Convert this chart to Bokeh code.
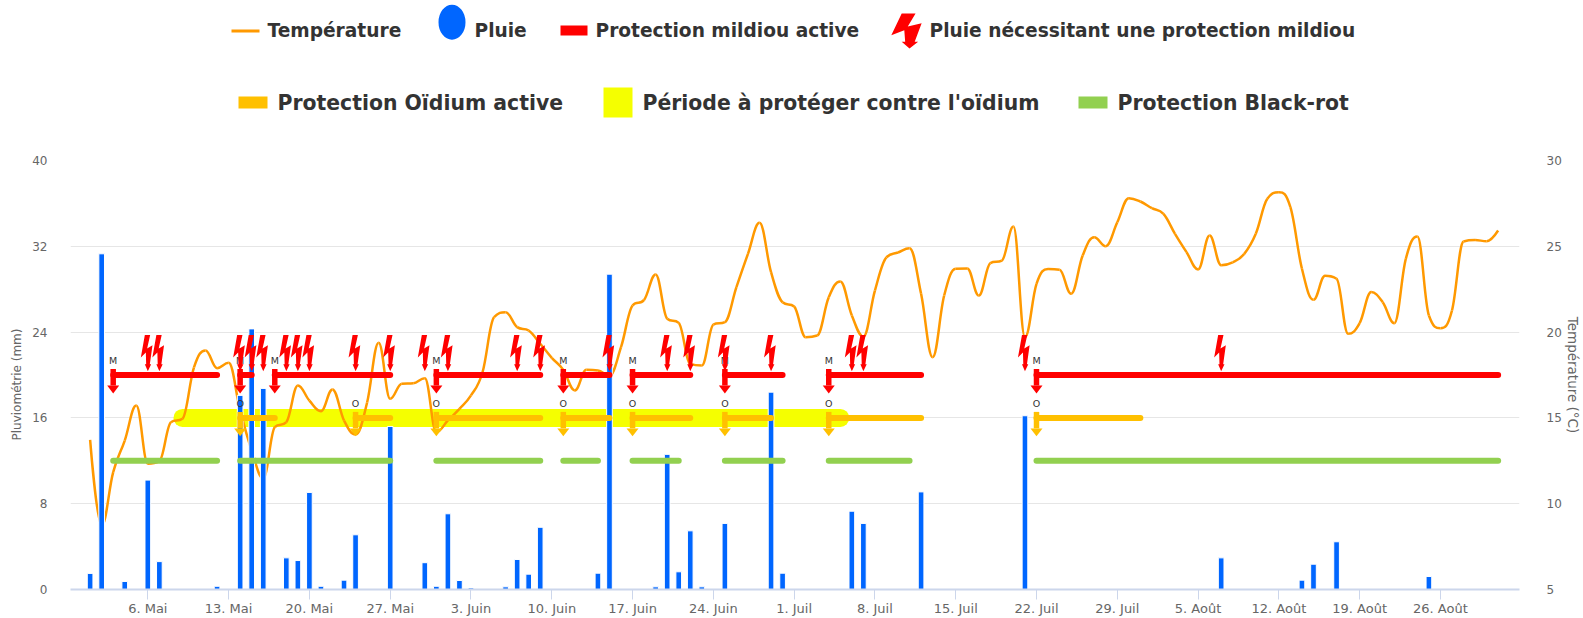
from bokeh.embed import file_html
from bokeh.resources import INLINE
from bokeh.plotting import figure
from bokeh.layouts import column
from bokeh.models import (ColumnDataSource, Range1d, LinearAxis, FixedTicker, Title, Bezier)
from bokeh.core.properties import value

FONT = "DejaVu Sans"

# ---- data: x is the number of days after 6 May ----
tick_days = [0, 7, 14, 21, 28, 35, 42, 49, 56, 63, 70, 77, 84, 91, 98, 105, 112]
tick_labels = ["6. Mai", "13. Mai", "20. Mai", "27. Mai", "3. Juin", "10. Juin", "17. Juin", "24. Juin",
               "1. Juil", "8. Juil", "15. Juil", "22. Juil", "29. Juil", "5. Août", "12. Août", "19. Août", "26. Août"]

rain_days = [-5, -4, -2, 0, 1, 6, 8, 9, 10, 12, 13, 14, 15, 17, 18, 21, 24, 25, 26, 27, 28, 31, 32, 33, 34,
             39, 40, 44, 45, 46, 47, 48, 50, 54, 55, 61, 62, 67, 76, 93, 100, 101, 103, 111]
rain_mm = [1.5, 31.3, 0.75, 10.2, 2.6, 0.3, 18.1, 24.3, 18.75, 2.95, 2.7, 9.05, 0.3, 0.87, 5.1, 15.2, 2.5, 0.3,
           7.06, 0.84, 0.15, 0.25, 2.8, 1.43, 5.8, 1.52, 29.4, 0.25, 12.6, 1.65, 5.47, 0.25, 6.16, 18.4, 1.52,
           7.3, 6.16, 9.1, 16.2, 2.95, 0.87, 2.36, 4.45, 1.21]

temp_first_day = -5
temperature = [13.72, 8.73, 11.84, 13.68, 15.72, 12.33, 12.48, 14.75, 14.95, 17.95, 18.93, 17.9, 18.21, 15.43, 13.1,
               11.47, 14.46, 14.75, 16.89, 16.01, 15.39, 16.66, 14.85, 14.03, 15.9, 19.38, 16.11, 16.99, 17.02, 17.31,
               14.17, 14.85, 15.53, 16.31, 17.66, 20.87, 21.16, 20.29, 20.09, 19.32, 18.5, 17.8, 16.6, 17.8, 17.76,
               17.47, 19.12, 21.55, 21.88, 23.36, 20.78, 20.54, 18.15, 18.05, 20.44, 20.58, 22.62, 24.56, 26.37, 23.49,
               21.74, 21.49, 19.7, 19.8, 22.03, 22.95, 20.97, 19.74, 22.42, 24.36, 24.64, 24.89, 22.23, 18.54, 22.13,
               23.69, 23.71, 22.13, 24.02, 24.17, 26.15, 19.7, 22.81, 23.67, 23.63, 22.23, 24.46, 25.53, 25.01, 26.4,
               27.8, 27.61, 27.22, 26.89, 25.73, 24.66, 23.65, 25.63, 23.9, 24.07, 24.56, 25.73, 27.77, 28.15, 27.28,
               23.69, 21.88, 23.28, 23.11, 19.9, 20.52, 22.33, 21.74, 20.52, 24.27, 25.57, 20.97, 20.23, 21.26, 25.28,
               25.36, 25.3, 25.92]
temp_days = [temp_first_day + i for i in range(len(temperature))]

mildiou_start = [-3, 8, 11, 25, 36, 42, 50, 59, 77]
mildiou_end = [6, 9, 21, 34, 40, 47, 55, 67, 117]
oidium_start = [8, 18, 25, 36, 42, 50, 59, 77]
oidium_end = [11, 21, 34, 40, 47, 54, 67, 86]
blackrot_start = [-3, 8, 25, 36, 42, 50, 59, 77]
blackrot_end = [6, 21, 34, 39, 46, 55, 66, 117]
oidium_period_start = [3]
oidium_period_end = [60]
alert_days = [0, 1, 8, 9, 10, 12, 13, 14, 18, 21, 24, 26, 32, 34, 40, 45, 47, 50, 54, 61, 62, 76, 93]

legend_row1 = ["Température", "Pluie", "Protection mildiou active", "Pluie nécessitant une protection mildiou"]
legend_row2 = ["Protection Oïdium active", "Période à protéger contre l'oïdium", "Protection Black-rot"]

# ---- styles ----
BLUE, ORANGE, RED, AMBER, YELLOW, GREEN = "#0066ff", "#ff9900", "#ff0000", "#ffc000", "#f5ff00", "#92d050"
GREY = "#666666"
PX_DAY, PX_MM = 11.54, 10.72
MILDIOU_Y, OIDIUM_Y, BLACKROT_Y = 20, 16, 12
BOLT_DX = [-3, 2.33, -0.67, 4.67, 2, 3.33, 0, -3, -1.67, -2, -7]
BOLT_DY = [-36, -36, -22.7, -26, -7, -7, 0, -7, -7, -18.7, -13.7]


def spline_controls(xs, ys, smoothing=1.5):
    """Control points of a monotone-limited spline through the read points."""
    n = len(xs)
    left, right = [None] * n, [None] * n
    for i in range(n):
        x, y = xs[i], ys[i]
        if i == 0 or i == n - 1:
            left[i] = right[i] = (x, y)
            continue
        lx, ly, nx, ny = xs[i - 1], ys[i - 1], xs[i + 1], ys[i + 1]
        d = smoothing + 1
        lcx, lcy = (smoothing * x + lx) / d, (smoothing * y + ly) / d
        rcx, rcy = (smoothing * x + nx) / d, (smoothing * y + ny) / d
        corr = (rcy - lcy) * (rcx - x) / (rcx - lcx) + y - rcy
        lcy += corr
        rcy += corr
        if lcy > ly and lcy > y:
            lcy = max(ly, y)
            rcy = 2 * y - lcy
        elif lcy < ly and lcy < y:
            lcy = min(ly, y)
            rcy = 2 * y - lcy
        if rcy > ny and rcy > y:
            rcy = max(ny, y)
            lcy = 2 * y - rcy
        elif rcy < ny and rcy < y:
            rcy = min(ny, y)
            lcy = 2 * y - rcy
        left[i], right[i] = (lcx, lcy), (rcx, rcy)
    return left, right


# ---- legend band ----
leg = figure(width=1583, height=138, x_range=Range1d(70, 1519), y_range=Range1d(138, 0),
             output_backend="svg", toolbar_location=None, outline_line_color=None,
             min_border_left=70, min_border_right=64, min_border_top=0, min_border_bottom=0)
leg.axis.visible = False
leg.grid.visible = False
leg.line([231, 259], [30.5, 30.5], line_color=ORANGE, line_width=3)
leg.ellipse([451.5], [21.7], width=27, height=35, fill_color=BLUE, line_color=None)
leg.quad(left=[560], right=[587], top=[25], bottom=[35], fill_color=RED, line_color=None)
leg.patch([909 + 2.6 * dx for dx in BOLT_DX], [48 + 0.97 * dy for dy in BOLT_DY], fill_color=RED, line_color=None)
leg.quad(left=[238], right=[267], top=[96], bottom=[108], fill_color=AMBER, line_color=None)
leg.quad(left=[603], right=[632], top=[87], bottom=[117], fill_color=YELLOW, line_color=None)
leg.quad(left=[1078], right=[1107], top=[96], bottom=[108], fill_color=GREEN, line_color=None)
leg.text([267, 474, 595, 929], [30, 30, 30, 30], text=legend_row1, text_font=value(FONT), text_font_style="bold",
         text_font_size="18.6px", text_color="#333333", text_baseline="middle")
leg.text([277, 642, 1117], [102, 102, 102], text=legend_row2, text_font=value(FONT), text_font_style="bold",
         text_font_size="20.4px", text_color="#333333", text_baseline="middle")

# ---- main chart ----
p = figure(width=1583, height=480, x_range=Range1d(-6.7, 118.85), y_range=Range1d(0, 40),
           output_backend="svg", toolbar_location=None, outline_line_color=None,
           min_border_left=70, min_border_right=64, min_border_top=22, min_border_bottom=29)
p.extra_y_ranges = {"temp": Range1d(5, 30)}

p.xgrid.visible = False
p.ygrid.grid_line_color = "#e6e6e6"
p.ygrid.ticker = FixedTicker(ticks=[0, 8, 16, 24, 32, 40])

xa = p.xaxis[0]
xa.ticker = FixedTicker(ticks=tick_days)
xa.major_label_overrides = dict(zip(tick_days, tick_labels))
xa.axis_line_color = "#ccd6eb"
xa.axis_line_width = 2
xa.major_tick_line_color = "#ccd6eb"
xa.major_tick_in = 0
xa.major_tick_out = 10
xa.minor_tick_line_color = None
xa.major_label_standoff = 1
xa.major_label_text_color = GREY
xa.major_label_text_font = FONT
xa.major_label_text_font_size = "13px"

ya = p.yaxis[0]
ya.ticker = FixedTicker(ticks=[0, 8, 16, 24, 32, 40])
ya.axis_line_color = None
ya.major_tick_line_color = None
ya.minor_tick_line_color = None
ya.major_label_standoff = 17
ya.major_label_text_color = GREY
ya.major_label_text_font = FONT
ya.major_label_text_font_size = "12px"

ra = LinearAxis(y_range_name="temp", ticker=FixedTicker(ticks=[5, 10, 15, 20, 25, 30]),
                axis_label="Température (°C)", axis_label_text_color=GREY, axis_label_text_font=FONT,
                axis_label_text_font_size="13.5px", axis_label_text_font_style="normal", axis_label_standoff=0,
                axis_line_color=None, major_tick_line_color=None, minor_tick_line_color=None,
                major_label_standoff=21, major_label_text_color=GREY, major_label_text_font=FONT,
                major_label_text_font_size="12px")
p.add_layout(ra, "right")

p.add_layout(Title(text="Pluviométrie (mm)", align="left", offset=149, standoff=12, text_color=GREY,
                   text_font=FONT, text_font_size="12px", text_font_style="normal"), "left")


def bar_segments(starts, ends, y, color, width):
    p.segment(x0=starts, x1=ends, y0=[y] * len(starts), y1=[y] * len(starts), line_color=color,
              line_width=width, line_cap="round")


def start_arrows(days, y, color):
    p.segment(x0=days, x1=days, y0=[y + 6 / PX_MM] * len(days), y1=[y - 10.5 / PX_MM] * len(days),
              line_color=color, line_width=5.5)
    p.patches(xs=[[d - 6 / PX_DAY, d + 6 / PX_DAY, d] for d in days],
              ys=[[y - 10.5 / PX_MM, y - 10.5 / PX_MM, y - 18.4 / PX_MM] for d in days],
              fill_color=color, line_color=None)


bar_segments(oidium_period_start, oidium_period_end, OIDIUM_Y, YELLOW, 18)

lc, rc = spline_controls(temp_days, temperature)
temp_src = ColumnDataSource(data=dict(
    x0=temp_days[:-1], y0=temperature[:-1], x1=temp_days[1:], y1=temperature[1:],
    cx0=[c[0] for c in rc[:-1]], cy0=[c[1] for c in rc[:-1]],
    cx1=[c[0] for c in lc[1:]], cy1=[c[1] for c in lc[1:]]))
p.add_glyph(temp_src, Bezier(x0="x0", y0="y0", x1="x1", y1="y1", cx0="cx0", cy0="cy0", cx1="cx1", cy1="cy1",
                             line_color=ORANGE, line_width=2.5), y_range_name="temp")

p.vbar(x=rain_days, top=rain_mm, bottom=0, width=0.49, fill_color=BLUE, line_color="white", line_width=1)

bar_segments(blackrot_start, blackrot_end, BLACKROT_Y, GREEN, 6)
bar_segments(oidium_start, oidium_end, OIDIUM_Y, AMBER, 6)
bar_segments(mildiou_start, mildiou_end, MILDIOU_Y, RED, 6)

p.text(mildiou_start, [MILDIOU_Y] * len(mildiou_start), text=["M"] * len(mildiou_start), y_offset=-14.3,
       text_align="center", text_baseline="middle", text_font=value(FONT), text_font_size="9.5px", text_color="#333333")
p.text(oidium_start, [OIDIUM_Y] * len(oidium_start), text=["O"] * len(oidium_start), y_offset=-14,
       text_align="center", text_baseline="middle", text_font=value(FONT), text_font_size="9.5px", text_color="#333333")

start_arrows(oidium_start, OIDIUM_Y, AMBER)
start_arrows(mildiou_start, MILDIOU_Y, RED)

p.patches(xs=[[d + dx / PX_DAY for dx in BOLT_DX] for d in alert_days],
          ys=[[MILDIOU_Y + 0.36 - dy / PX_MM for dy in BOLT_DY] for d in alert_days],
          fill_color=RED, line_color=None)

layout = column(leg, p, spacing=0)
open("out.html", "w").write(file_html(layout, INLINE))
